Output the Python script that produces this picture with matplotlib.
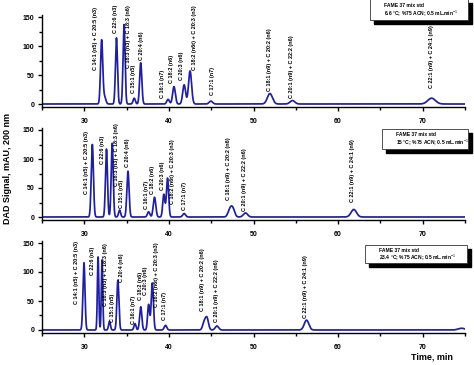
import numpy as np
import matplotlib
matplotlib.use("Agg")
import matplotlib.pyplot as plt
from matplotlib.patches import Rectangle

plt.rcParams["font.family"] = ["Liberation Sans", "DejaVu Sans"]
plt.rcParams["mathtext.fontset"] = "custom"
plt.rcParams["mathtext.rm"] = "Liberation Sans"
plt.rcParams["mathtext.bf"] = "Liberation Sans:bold"

W, H = 474, 365
LINE = "#1f1fa0"

# peak labels (same compounds in each run)
labels = [
    "C 14:1 (n5) + C 20:5 (n3)", "C 22:6 (n3)", "C 18:3 (n3) + C 18:3 (n6)",
    "C 15:1 (n5)", "C 20:4 (n6)", "C 16:1 (n7)", "C 18:2 (n6)", "C 20:3 (n6)",
    "C 18:2 (n6t) + C 20:3 (n3)", "C 17:1 (n7)", "C 18:1 (n9) + C 20:2 (n6)",
    "C 20:1 (n9) + C 22:2 (n6)", "C 22:1 (n9) + C 24:1 (n9)",
]
conditions = ["6.6 °C; %75 ACN; 0.5 mL.min$^{-1}$",
              "15 °C; %75 ACN; 0.5 mL.min$^{-1}$",
              "23.4 °C; %75 ACN; 0.5 mL.min$^{-1}$"]

# 6.6 °C run: retention time (min), height (mAU), width (min)
rt1 = [32.05, 32.4, 33.8, 34.7, 35.9, 36.67, 39.9, 40.6, 41.8, 42.5, 44.96, 51.94, 54.6, 71.05]
h1 = [110, 12, 114, 137, 10, 71, 8, 30, 33, 57, 5, 18, 6, 10]
s1 = [0.13, 0.15, 0.12, 0.12, 0.13, 0.13, 0.15, 0.16, 0.17, 0.18, 0.2, 0.3, 0.28, 0.45]
lx1 = [31.3, 33.7, 35.2, 35.8, 36.8, 39.2, 40.3, 41.5, 43.0, 45.1, 51.9, 54.5, 71.0]
ly1 = [59, 122, 62, 19, 76, 10, 36, 41, 59, 15, 23, 10, 27]

# 15 °C run
rt2 = [30.95, 32.62, 33.3, 34.17, 35.16, 37.6, 38.3, 39.4, 39.84, 41.8, 47.2, 47.55, 49.05, 61.85]
h2 = [125, 117, 127, 12, 79, 9, 34, 39, 67, 6, 12, 14, 7, 13]
s2 = [0.13, 0.12, 0.12, 0.12, 0.13, 0.14, 0.15, 0.13, 0.13, 0.17, 0.22, 0.22, 0.25, 0.32]
lx2 = [30.3, 32.1, 33.8, 34.4, 35.1, 37.4, 38.1, 39.2, 40.4, 41.8, 47.1, 48.9, 61.7]
ly2 = [39, 92, 54, 16, 86, 14, 39, 47, 23, 12, 29, 11, 26]

# 23.4 °C run
rt3 = [29.96, 31.63, 32.1, 32.98, 33.97, 35.99, 36.67, 37.6, 38.04, 39.6, 44.17, 44.5, 45.67, 56.27, 74.6]
h3 = [116, 126, 121, 15, 86, 11, 40, 44, 81, 8, 13, 20, 7, 17, 3]
s3 = [0.12, 0.085, 0.085, 0.11, 0.12, 0.12, 0.13, 0.12, 0.13, 0.15, 0.18, 0.18, 0.2, 0.27, 0.4]
lx3 = [29.1, 31.0, 32.5, 33.3, 34.4, 35.8, 36.6, 37.2, 38.5, 39.5, 44.0, 45.6, 56.2]
ly3 = [45, 94, 42, 13, 82, 11, 51, 60, 39, 18, 32, 13, 20]

runs = [(rt1, h1, s1, lx1, ly1), (rt2, h2, s2, lx2, ly2), (rt3, h3, s3, lx3, ly3)]

# layout in pixels: zero line, top of axes, legend box (x0, y0, x1, y1)
zero_px = [104, 217, 330]
top_px = [0, 115, 230]
boxes = [(370, -1, 468, 20), (382, 129, 468, 149), (365, 245, 467, 263)]
U = 150 / 87.0  # mAU per pixel

fig = plt.figure(figsize=(W / 100, H / 100), dpi=100)
t = np.linspace(25, 75, 5000)

for i, (rt, hh, ss, lx, ly) in enumerate(runs):
    bot = zero_px[i] + 5 / U
    ax = fig.add_axes([42 / W, 1 - bot / H, (465 - 42) / W, (bot - top_px[i]) / H])
    ax.patch.set_alpha(0)
    y = np.zeros_like(t)
    for r, h, s in zip(rt, hh, ss):
        y += h * np.exp(-0.5 * ((t - r) / s) ** 2)
    ax.plot(t, y, color=LINE, lw=1.25)
    ax.set_xlim(25, 75)
    ax.set_ylim(-5, (zero_px[i] - top_px[i]) * U)
    for sp in ["top", "right"]:
        ax.spines[sp].set_visible(False)
    ax.spines["left"].set_bounds(-5, 153)
    ax.spines["left"].set_linewidth(1.0)
    ax.spines["bottom"].set_linewidth(1.0)
    ax.set_xticks([30, 40, 50, 60, 70])
    ax.set_xticks([25, 35, 45, 55, 65, 75], minor=True)
    ax.set_yticks([0, 50, 100, 150])
    ax.set_yticks([25, 75, 125], minor=True)
    ax.tick_params(which="major", direction="out", length=3, width=1, pad=2.5,
                   labelsize=5)
    ax.tick_params(which="minor", direction="out", length=2, width=1)
    ax.tick_params(axis="x", which="major", pad=5)
    for lab in ax.get_xticklabels() + ax.get_yticklabels():
        lab.set_fontweight("bold")
    for s, x0, y0 in zip(labels, lx, ly):
        ax.text(x0, y0, s, rotation=90, ha="center", va="bottom", fontsize=4.0,
                fontweight="bold", clip_on=False)

    # legend box with drop shadow
    bx0, by0, bx1, by1 = boxes[i]
    fig.patches.append(Rectangle(((bx0 + 4) / W, 1 - (by1 + 4) / H),
                                 (bx1 - bx0) / W, (by1 - by0) / H, transform=fig.transFigure,
                                 facecolor="black", edgecolor="black", zorder=5))
    fig.patches.append(Rectangle((bx0 / W, 1 - by1 / H), (bx1 - bx0) / W, (by1 - by0) / H,
                                 transform=fig.transFigure, facecolor="white",
                                 edgecolor="#333333", lw=0.6, zorder=6))
    tx = (bx0 + 14) / W
    fig.text(tx, 1 - (by0 + 0.3 * (by1 - by0)) / H, "FAME 37 mix std", fontsize=3.6,
             fontweight="bold", va="center", zorder=7)
    fig.text(tx, 1 - (by0 + 0.72 * (by1 - by0)) / H, conditions[i], fontsize=3.6,
             fontweight="bold", va="center", zorder=7)

fig.text(8 / W, 1 - 168 / H, "DAD Signal, mAU, 200 nm", rotation=90, ha="center",
         va="center", fontsize=6.5, fontweight="bold")
fig.text(432 / W, 1 - 357 / H, "Time, min", ha="center", va="center", fontsize=6.5,
         fontweight="bold")

fig.savefig("out.png", dpi=100)
